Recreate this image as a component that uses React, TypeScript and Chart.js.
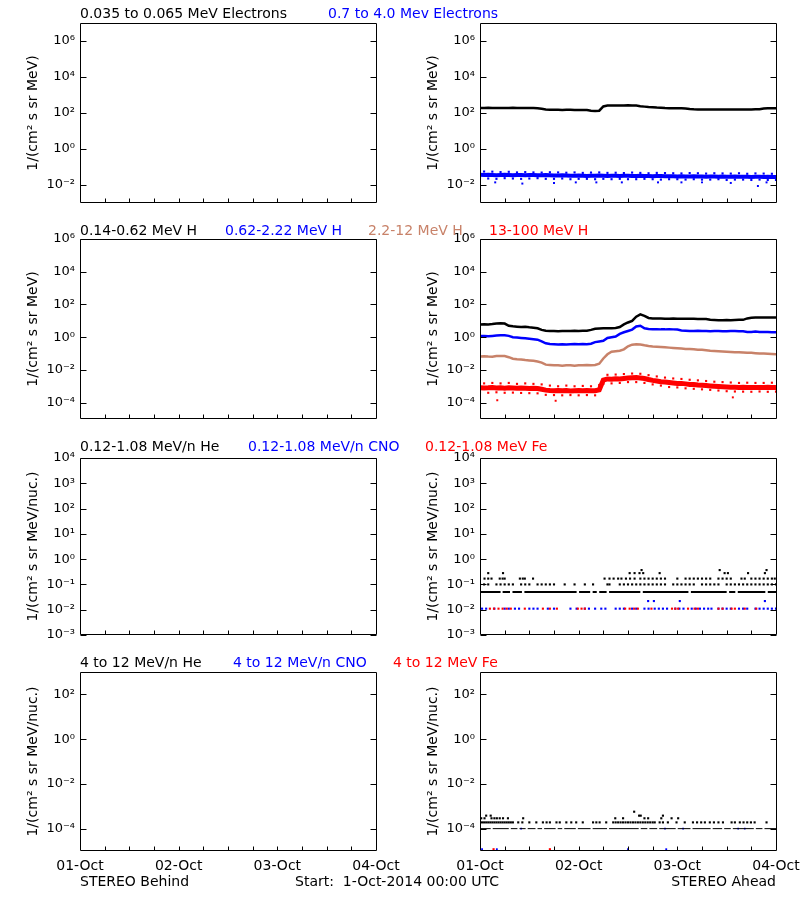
import React, { useEffect, useRef } from "react";
import { Chart, registerables } from "chart.js";

Chart.register(...registerables);

const FONT_FAMILY = '"DejaVu Sans", "Liberation Sans", sans-serif';
const BLACK = "#000000";
const BLUE = "#0000ff";
const RED = "#ff0000";
const BROWN = "rgb(200,130,105)";

// ---------- axis categories / labels ----------
const HOURS = [0,1,2,3,4,5,6,7,8,9,10,11,12,13,14,15,16,17,18,19,20,21,22,23,24,25,26,27,28,29,30,31,32,33,34,35,36,37,38,39,40,41,42,43,44,45,46,47,48,49,50,51,52,53,54,55,56,57,58,59,60,61,62,63,64,65,66,67,68,69,70,71,72];
const ODD_HOURS = [1,3,5,7,9,11,13,15,17,19,21,23,25,27,29,31,33,35,37,39,41,43,45,47,49,51,53,55,57,59,61,63,65,67,69,71];
const EVEN_HOURS = [0,2,4,6,8,10,12,14,16,18,20,22,24,26,28,30,32,34,36,38,40,42,44,46,48,50,52,54,56,58,60,62,64,66,68,70,72];
const DAY_HOURS = [0, 24, 48, 72];
const DAY_LABELS = ["01-Oct", "02-Oct", "03-Oct", "04-Oct"];
const MINOR_HOURS = [6,12,18,24,30,36,42,48,54,60,66];

const ROW1_TITLES = ["0.035 to 0.065 MeV Electrons", "0.7 to 4.0 Mev Electrons"];
const ROW2_TITLES = ["0.14-0.62 MeV H", "0.62-2.22 MeV H", "2.2-12 MeV H", "13-100 MeV H"];
const ROW3_TITLES = ["0.12-1.08 MeV/n He", "0.12-1.08 MeV/n CNO", "0.12-1.08 MeV Fe"];
const ROW4_TITLES = ["4 to 12 MeV/n He", "4 to 12 MeV/n CNO", "4 to 12 MeV Fe"];
const FOOTER_LEFT = "STEREO Behind";
const FOOTER_MID = "Start:  1-Oct-2014 00:00 UTC";
const FOOTER_RIGHT = "STEREO Ahead";
const Y_TITLE_MEV = "1/(cm² s sr MeV)";
const Y_TITLE_NUC = "1/(cm² s sr MeV/nuc.)";

const ROW1_EXPS = [-2, 0, 2, 4, 6];
const ROW2_EXPS = [-4, -2, 0, 2, 4, 6];
const ROW3_EXPS = [-3, -2, -1, 0, 1, 2, 3, 4];
const ROW4_EXPS = [-4, -2, 0, 2];

// ---------- row 1: electrons (STEREO Ahead) ----------
const ELEC_LOW_FLUX = [192,190,193,191,189,192,190,191,193,190,189,191,190,188,186,172,158,152,150,151,149,151,150,148,147,149,146,135,128,134,232,258,262,265,260,263,268,262,258,240,226,215,208,200,195,188,186,185,186,184,180,165,160,158,157,158,156,157,158,156,157,158,156,157,158,156,158,160,162,178,182,181,183];
const ELEC_HIGH_CENTER = [0.037,0.036,0.037,0.036,0.035,0.036,0.037,0.036,0.035,0.036,0.036,0.035,0.036,0.036,0.035,0.035,0.036,0.035,0.034,0.034,0.035,0.034,0.033,0.033,0.034,0.033,0.032,0.033,0.033,0.034,0.033,0.032,0.033,0.033,0.032,0.033,0.033,0.032,0.032,0.033,0.032,0.032,0.031,0.032,0.032,0.031,0.031,0.031,0.030,0.031,0.030,0.030,0.031,0.030,0.030,0.029,0.030,0.030,0.029,0.030,0.029,0.029,0.030,0.029,0.029,0.029,0.028,0.029,0.029,0.028,0.029,0.028,0.028];
const ELEC_HIGH_UPPER = [0.056,0.055,0.052,0.054,0.05,0.052,0.05,0.049,0.051,0.05,0.048,0.05,0.047,0.049,0.05,0.047,0.048,0.046,0.049,0.047,0.045,0.047,0.046,0.045,0.044,0.046,0.045,0.043,0.045,0.044,0.043,0.045,0.042,0.044,0.043,0.042];
const ELEC_HIGH_LOWER = [0.024,0.023,0.022,0.024,0.023,0.022,0.023,0.024,0.022,0.022,0.023,0.021,0.022,0.022,0.021,0.022,0.021,0.022,0.021,0.021,0.022,0.021,0.02,0.021,0.021,0.02,0.021,0.02,0.02,0.021,0.019,0.02,0.02,0.019,0.02,0.019,0.019];
const ELEC_HIGH_OUTLIER_HOURS = [3.7,10.3,18,23.3,28.3,34.5,43.3,49,54,61,67.6,69.7];
const ELEC_HIGH_OUTLIER_VALUES = [0.014,0.012,0.013,0.014,0.014,0.014,0.014,0.014,0.014,0.013,0.0088,0.014];

// ---------- row 2: protons (STEREO Ahead) ----------
const H_LOW_FLUX = [6.0,6.2,6.0,6.3,6.9,7.2,6.8,5.0,4.6,4.4,4.2,4.3,4.0,3.8,3.5,2.8,2.5,2.4,2.4,2.3,2.4,2.35,2.4,2.5,2.4,2.45,2.5,2.8,3.3,3.4,3.5,3.5,3.5,3.6,4.2,6.0,7.9,10,18,25,20,15,14,13.8,13.8,13.5,13.5,13.8,13.5,13.2,13.2,13.5,13.2,13,13,13,11.5,11.2,11,11,11.2,11,11.2,11.5,11.5,14,15.5,15.8,16,16,15.8,16,15.8];
const H_MID_FLUX = [1.2,1.2,1.15,1.2,1.25,1.3,1.3,1.2,1.0,0.95,0.9,0.85,0.8,0.75,0.7,0.55,0.42,0.38,0.37,0.36,0.37,0.36,0.37,0.38,0.37,0.38,0.37,0.40,0.5,0.55,0.6,0.9,1.0,1.1,1.6,2.0,2.4,2.9,4.5,5.0,3.5,3.2,3.1,3.1,3.0,3.0,3.1,3.0,2.9,2.6,2.5,2.4,2.4,2.5,2.4,2.4,2.3,2.4,2.4,2.3,2.3,2.4,2.4,2.3,2.3,2.1,2.1,2.2,2.1,2.1,2.1,2.0,2.0];
const H_HIGH_FLUX = [0.066,0.068,0.065,0.064,0.07,0.072,0.07,0.06,0.048,0.045,0.043,0.04,0.038,0.036,0.033,0.028,0.021,0.02,0.019,0.019,0.018,0.019,0.019,0.018,0.019,0.019,0.02,0.019,0.02,0.024,0.05,0.09,0.13,0.14,0.15,0.18,0.28,0.35,0.37,0.36,0.32,0.29,0.27,0.26,0.25,0.24,0.23,0.22,0.21,0.2,0.19,0.19,0.18,0.17,0.17,0.16,0.15,0.145,0.14,0.135,0.13,0.125,0.12,0.12,0.115,0.11,0.11,0.105,0.1,0.1,0.098,0.095,0.092];
const H_TOP_CENTER = [8.2e-4,7.8e-4,8e-4,8.4e-4,7.9e-4,8e-4,7.7e-4,8.1e-4,7.8e-4,7.5e-4,7.9e-4,7.6e-4,7.4e-4,7.5e-4,7.2e-4,6.5e-4,5.8e-4,5.5e-4,5.4e-4,5.6e-4,5.3e-4,5.5e-4,5.2e-4,5.4e-4,5.5e-4,5.3e-4,5.6e-4,5.4e-4,5.3e-4,6e-4,2.4e-3,2.8e-3,2.7e-3,2.9e-3,2.8e-3,3e-3,3.2e-3,3.3e-3,3.4e-3,3.2e-3,3e-3,2.6e-3,2.3e-3,2.1e-3,1.9e-3,1.8e-3,1.7e-3,1.6e-3,1.5e-3,1.5e-3,1.4e-3,1.3e-3,1.3e-3,1.2e-3,1.15e-3,1.1e-3,1.05e-3,1e-3,9.6e-4,9.3e-4,9e-4,8.8e-4,8.6e-4,8.5e-4,8.6e-4,8.4e-4,8.5e-4,8.3e-4,8.5e-4,8.4e-4,8.6e-4,8.4e-4,8.5e-4];
const H_TOP_UPPER = [1.5e-3,1.6e-3,1.5e-3,1.6e-3,1.4e-3,1.5e-3,1.4e-3,1.3e-3,1.1e-3,1.0e-3,1.1e-3,1.0e-3,1.05e-3,1.0e-3,1.2e-3,5e-3,5.2e-3,5.6e-3,6e-3,5.8e-3,4.8e-3,4e-3,3.4e-3,3e-3,2.8e-3,2.5e-3,2.3e-3,2.1e-3,1.9e-3,1.8e-3,1.7e-3,1.6e-3,1.65e-3,1.6e-3,1.6e-3,1.65e-3];
const H_TOP_LOWER = [4.2e-4,4e-4,4.3e-4,4e-4,4.1e-4,3.9e-4,3.8e-4,3.7e-4,3e-4,2.9e-4,2.8e-4,2.9e-4,2.8e-4,2.9e-4,2.8e-4,1.4e-3,1.5e-3,1.6e-3,1.8e-3,1.8e-3,1.6e-3,1.3e-3,1.1e-3,9e-4,8.5e-4,7.5e-4,7e-4,6.5e-4,6e-4,5.5e-4,5e-4,4.8e-4,4.7e-4,4.6e-4,4.8e-4,4.6e-4,4.7e-4];
const H_TOP_OUTLIER_HOURS = [4.2, 18.4, 61.5];
const H_TOP_OUTLIER_VALUES = [1.4e-4, 1.3e-4, 2.1e-4];

// ---------- row 3: 0.12-1.08 MeV/n ions (STEREO Ahead) ----------
const HE_BASE_LEVEL = 0.05;
const HE_BASE_SEGMENTS = [[0,5],[5.5,7.3],[7.9,10.2],[10.8,23.5],[24.1,26.8],[27.4,28.4],[29,30.8],[31.4,39],[39.6,50.7],[51.3,60],[60.6,62.1],[62.7,69.4],[70,72]];
const HE_MID_LEVEL = 0.1;
const HE_MID_HOURS = [0,1,2,4,5,6,7,8,10,11,12,14,15,16,17,18,20.6,23,25.5,27.5,31,31.5,34,35,36,37,38,39,40,41,42,43,44,45,47,48,49,50,51,52,54,55,56,57,58,60,61,62,63,64,65,66,67,68,69,70,71,72];
const HE_HIGH_LEVEL = 0.17;
const HE_HIGH_HOURS = [1.1,2,2.8,4.8,5.5,6,9.7,10.4,10.9,12.9,30.3,31.5,32.5,33.6,34.4,35.5,36.5,37.6,39,40,41,42,43,44,45,48,50,51,52,53,54,55,56,58,59,60,61,63.6,64.4,66,67,68,69,70,71,71.7];
const HE_HIGHER_LEVEL = 0.28;
const HE_HIGHER_HOURS = [2,5.6,36.4,37.6,38.8,39.7,43.7,59.5,60.3,65.2,69.3];
const HE_TOP_LEVEL = 0.37;
const HE_TOP_HOURS = [39.3,58.3,69.7];
const CNO_LEVEL = 0.011;
const CNO_HOURS = [0.5,1.5,3.5,6,7,8.5,9.5,12,13,14,16.5,18,22,23.5,25.5,26.5,28,29.5,30.5,33,34,35,37,38,40,41,42.5,43.5,44.5,45.5,47.5,48.5,49.5,51.5,52.5,53.5,54.5,55.5,56.3,58,59,60,61,63,64,65,67,68,69,70,71,72];
const CNO_HIGH_LEVEL = 0.022;
const CNO_HIGH_HOURS = [40.9,42.3,48.6,69.3];
const FE_LEVEL = 0.011;
const FE_HOURS = [2.4,3.4,4.5,5.5,6.5,7.5,10.9,15.3,17,18.7,23.8,24.7,25.5,35.3,36.4,37.5,38.4,41.7,46.7,47.5,48.2,50.6,52.2,53,58,59,61.2,62,64.4,67.2];

// ---------- row 4: 4-12 MeV/n ions (STEREO Ahead) ----------
const HE4_BASE_LEVEL = 1e-4;
const HE4_BASE_SEGMENTS = [[0,2.6],[3.1,7],[7.5,9.1],[9.6,11.1],[11.6,13.5],[14,15.1],[15.6,18.4],[18.9,20],[20.5,23.3],[23.8,26.9],[27.4,30.9],[31.4,38.6],[39.1,40.7],[41.2,43.1],[43.6,47.6],[48.1,51.2],[51.7,56.1],[56.6,58.9],[59.4,61],[61.5,66.6],[67.1,68.7],[69.2,72]];
const HE4_MID_LEVEL = 1.9e-4;
const HE4_MID_HOURS = [0.5,1,1.5,2,2.5,3,3.5,4,4.5,5,5.5,6,6.5,7,7.5,8,9.3,10.3,12,13.7,15.3,16.2,17,18.6,19.4,21,22.2,23.4,25,27.5,28.3,29.1,30.7,32.4,33,33.6,34.2,34.8,35.4,36,36.6,37.2,37.8,38.4,39,39.6,40.2,40.8,41.4,42,42.5,43.7,44.5,45.7,47.8,49.8,51.8,52.8,53.8,54.7,55.9,56.9,58,59.1,61.2,62,63.2,64.1,65,65.9,66.8,69.7];
const HE4_HIGH_LEVEL = 2.9e-4;
const HE4_HIGH_HOURS = [0.3,1.1,2.8,3.5,4.1,4.8,5.6,6.8,10.5,32.9,34.8,40,40.9,44.1,46.6,48.2];
const HE4_HIGHER_LEVEL = 3.8e-4;
const HE4_HIGHER_HOURS = [1.5,2.6,38.7,39.1,44.5];
const HE4_TOP_LEVEL = 5.7e-4;
const HE4_TOP_HOURS = [37.5];
const CNO4_BASE_LEVEL = 1e-4;
const CNO4_BASE_HOURS = [10,45,49.4,62.8,64.4];
const FLOOR_LEVEL = 1.2e-5;
const CNO4_FLOOR_HOURS = [0.5,4.1,36,45.3];
const FE4_FLOOR_HOURS = [3.3,17];

// ---------- helpers ----------
const SUP: Record<string, string> = { "-": "⁻", "0": "⁰", "1": "¹", "2": "²", "3": "³", "4": "⁴", "5": "⁵", "6": "⁶", "7": "⁷", "8": "⁸", "9": "⁹" };
const powerLabel = (e: number) => "10" + String(e).split("").map((c) => SUP[c] || c).join("");

function lineSeries(values: number[], color: string, width: number) {
  return {
    data: HOURS.map((h, i) => ({ x: h, y: values[i] })),
    borderColor: color,
    backgroundColor: color,
    borderWidth: width,
    pointRadius: 0,
    showLine: true,
    spanGaps: false,
    tension: 0,
  };
}

function dotSeries(hours: number[], values: number[] | number, color: string, radius = 1.5) {
  return {
    data: hours.map((h, i) => ({ x: h, y: Array.isArray(values) ? values[i] : values })),
    showLine: false,
    pointStyle: "rect",
    pointRadius: radius,
    pointBorderWidth: 0,
    pointBackgroundColor: color,
    pointBorderColor: color,
    borderColor: color,
    backgroundColor: color,
  };
}

function segmentSeries(segs: number[][], value: number, color: string, width: number) {
  const data: { x: number; y: number | null }[] = [];
  segs.forEach(([a, b]) => {
    data.push({ x: a, y: value }, { x: b, y: value }, { x: b, y: null });
  });
  return {
    data,
    borderColor: color,
    backgroundColor: color,
    borderWidth: width,
    pointRadius: 0,
    showLine: true,
    spanGaps: false,
    borderCapStyle: "butt",
  };
}

type Panel = {
  col: number;
  top: number;
  bottom: number;
  yMin: number;
  yMax: number;
  exps: number[];
  yTitle: string;
  bottomRow: boolean;
  datasets: any[];
};

const ROWS = [
  { top: 23, bottom: 203, yMin: 1e-3, yMax: 1e7, exps: ROW1_EXPS, yTitle: Y_TITLE_MEV, bottomRow: false },
  { top: 239, bottom: 419, yMin: 1e-5, yMax: 1e6, exps: ROW2_EXPS, yTitle: Y_TITLE_MEV, bottomRow: false },
  { top: 458, bottom: 635, yMin: 1e-3, yMax: 1e4, exps: ROW3_EXPS, yTitle: Y_TITLE_NUC, bottomRow: false },
  { top: 672, bottom: 851, yMin: 1e-5, yMax: 1e3, exps: ROW4_EXPS, yTitle: Y_TITLE_NUC, bottomRow: true },
];

const RIGHT_DATASETS = [
  [
    lineSeries(ELEC_LOW_FLUX, BLACK, 2.5),
    lineSeries(ELEC_HIGH_CENTER, BLUE, 4),
    dotSeries(ODD_HOURS, ELEC_HIGH_UPPER, BLUE, 1.5),
    dotSeries(EVEN_HOURS, ELEC_HIGH_LOWER, BLUE, 1.5),
    dotSeries(ELEC_HIGH_OUTLIER_HOURS, ELEC_HIGH_OUTLIER_VALUES, BLUE, 1.4),
  ],
  [
    lineSeries(H_LOW_FLUX, BLACK, 2.5),
    lineSeries(H_MID_FLUX, BLUE, 2.5),
    lineSeries(H_HIGH_FLUX, BROWN, 2.5),
    lineSeries(H_TOP_CENTER, RED, 5),
    dotSeries(ODD_HOURS, H_TOP_UPPER, RED, 1.5),
    dotSeries(EVEN_HOURS, H_TOP_LOWER, RED, 1.5),
    dotSeries(H_TOP_OUTLIER_HOURS, H_TOP_OUTLIER_VALUES, RED, 1.4),
  ],
  [
    segmentSeries(HE_BASE_SEGMENTS, HE_BASE_LEVEL, BLACK, 2),
    dotSeries(HE_MID_HOURS, HE_MID_LEVEL, BLACK),
    dotSeries(HE_HIGH_HOURS, HE_HIGH_LEVEL, BLACK),
    dotSeries(HE_HIGHER_HOURS, HE_HIGHER_LEVEL, BLACK),
    dotSeries(HE_TOP_HOURS, HE_TOP_LEVEL, BLACK),
    dotSeries(FE_HOURS, FE_LEVEL, RED),
    dotSeries(CNO_HOURS, CNO_LEVEL, BLUE),
    dotSeries(CNO_HIGH_HOURS, CNO_HIGH_LEVEL, BLUE),
  ],
  [
    segmentSeries(HE4_BASE_SEGMENTS, HE4_BASE_LEVEL, BLACK, 1),
    dotSeries(HE4_MID_HOURS, HE4_MID_LEVEL, BLACK),
    dotSeries(HE4_HIGH_HOURS, HE4_HIGH_LEVEL, BLACK),
    dotSeries(HE4_HIGHER_HOURS, HE4_HIGHER_LEVEL, BLACK),
    dotSeries(HE4_TOP_HOURS, HE4_TOP_LEVEL, BLACK),
    dotSeries(CNO4_BASE_HOURS, CNO4_BASE_LEVEL, BLUE, 1.2),
    dotSeries(CNO4_FLOOR_HOURS, FLOOR_LEVEL, BLUE, 1.3),
    dotSeries(FE4_FLOOR_HOURS, FLOOR_LEVEL, RED, 1.5),
  ],
];

const PANELS: Panel[] = [];
ROWS.forEach((row, r) => {
  PANELS.push({ ...row, col: 0, datasets: [] });
  PANELS.push({ ...row, col: 1, datasets: RIGHT_DATASETS[r] });
});

const PAD_TOP = 20;
const PAD_BOTTOM = 10;
const PLOT_LEFT = 80;
const PANEL_WIDTH = 400;
const PAD_RIGHT = 24;
const TEXT_SIZE = 14;

function PanelChart({ panel }: { panel: Panel }) {
  const ref = useRef<HTMLCanvasElement>(null);
  const xh = panel.bottomRow ? 30 : 0;
  const height = PAD_TOP + (panel.bottom - panel.top) + xh + PAD_BOTTOM;

  useEffect(() => {
    if (!ref.current) return;
    const tickFont = { family: FONT_FAMILY, size: 13 };
    const textFont = { family: FONT_FAMILY, size: TEXT_SIZE };
    const framePlugin = {
      id: "idlFrame",
      afterDraw(chart: any) {
        const { ctx, chartArea, scales } = chart;
        const L = Math.round(chartArea.left) + 0.5;
        const R = Math.round(chartArea.right) + 0.5;
        const T = Math.round(chartArea.top) + 0.5;
        const B = Math.round(chartArea.bottom) - 0.5;
        ctx.save();
        ctx.strokeStyle = BLACK;
        ctx.lineWidth = 1;
        ctx.beginPath();
        ctx.rect(L, T, R - L, B - T);
        panel.exps.forEach((e) => {
          const y = Math.round(scales.y.getPixelForValue(Math.pow(10, e))) + 0.5;
          ctx.moveTo(L, y);
          ctx.lineTo(L + 6, y);
          ctx.moveTo(R - 6, y);
          ctx.lineTo(R, y);
        });
        MINOR_HOURS.forEach((h) => {
          const x = Math.round(scales.x.getPixelForValue(h)) + 0.5;
          ctx.moveTo(x, B);
          ctx.lineTo(x, B - 4);
        });
        ctx.stroke();
        ctx.restore();
      },
    };

    const chart = new Chart(ref.current, {
      type: "line",
      data: { datasets: panel.datasets },
      options: {
        animation: false,
        responsive: false,
        devicePixelRatio: 1,
        events: [],
        layout: { padding: { top: PAD_TOP, bottom: PAD_BOTTOM, left: 0, right: PAD_RIGHT } },
        plugins: { legend: { display: false }, tooltip: { enabled: false }, title: { display: false } },
        scales: {
          x: {
            type: "linear",
            min: 0,
            max: 72,
            display: panel.bottomRow,
            grid: { display: false, drawTicks: false },
            border: { display: false },
            ticks: {
              font: textFont,
              color: BLACK,
              padding: 7,
              maxRotation: 0,
              autoSkip: false,
              callback: (v: any) => {
                const i = DAY_HOURS.indexOf(Number(v));
                return i >= 0 ? DAY_LABELS[i] : "";
              },
            },
            afterBuildTicks: (s: any) => {
              s.ticks = DAY_HOURS.map((v) => ({ value: v }));
            },
            afterFit: (s: any) => {
              s.height = xh;
              s.paddingLeft = 0;
              s.paddingRight = 0;
            },
          },
          y: {
            type: "logarithmic",
            position: "left",
            min: panel.yMin,
            max: panel.yMax,
            grid: { display: false, drawTicks: false },
            border: { display: false },
            ticks: {
              font: tickFont,
              color: BLACK,
              padding: 5,
              autoSkip: false,
              callback: (v: any) => powerLabel(Math.round(Math.log10(Number(v)))),
            },
            afterBuildTicks: (s: any) => {
              s.ticks = panel.exps.map((e) => ({ value: Math.pow(10, e) }));
            },
            title: {
              display: true,
              text: panel.yTitle,
              font: textFont,
              color: BLACK,
              padding: { top: 24.5, bottom: 0 },
            },
            afterFit: (s: any) => {
              s.width = PLOT_LEFT;
              s.paddingTop = 0;
              s.paddingBottom = 0;
            },
          },
        },
      } as any,
      plugins: [framePlugin],
    } as any);
    return () => chart.destroy();
  }, []);

  return (
    <canvas
      ref={ref}
      width={PANEL_WIDTH}
      height={height}
      style={{ position: "absolute", left: panel.col * PANEL_WIDTH, top: panel.top - PAD_TOP, width: PANEL_WIDTH, height }}
    />
  );
}

const TITLE_LAYOUT = [
  { texts: ROW1_TITLES, colors: [BLACK, BLUE], xs: [80, 328], top: 5 },
  { texts: ROW2_TITLES, colors: [BLACK, BLUE, BROWN, RED], xs: [80, 225, 368, 489], top: 222 },
  { texts: ROW3_TITLES, colors: [BLACK, BLUE, RED], xs: [80, 248, 425], top: 438 },
  { texts: ROW4_TITLES, colors: [BLACK, BLUE, RED], xs: [80, 233, 393], top: 654 },
];

const textStyle: React.CSSProperties = {
  position: "absolute",
  fontFamily: FONT_FAMILY,
  fontSize: TEXT_SIZE,
  lineHeight: "16px",
  whiteSpace: "pre",
};

export default function App() {
  return (
    <div style={{ position: "absolute", left: 0, top: 0, width: 800, height: 900, background: "#ffffff", overflow: "hidden" }}>
      {PANELS.map((p, i) => (
        <PanelChart key={i} panel={p} />
      ))}
      {TITLE_LAYOUT.map((row, r) =>
        row.texts.map((t, i) => (
          <div key={`t${r}-${i}`} style={{ ...textStyle, left: row.xs[i], top: row.top, color: row.colors[i] }}>
            {t}
          </div>
        ))
      )}
      <div style={{ ...textStyle, left: 80, top: 873, color: BLACK }}>{FOOTER_LEFT}</div>
      <div style={{ ...textStyle, left: 295, top: 873, color: BLACK }}>{FOOTER_MID}</div>
      <div style={{ ...textStyle, right: 24, top: 873, color: BLACK }}>{FOOTER_RIGHT}</div>
    </div>
  );
}
